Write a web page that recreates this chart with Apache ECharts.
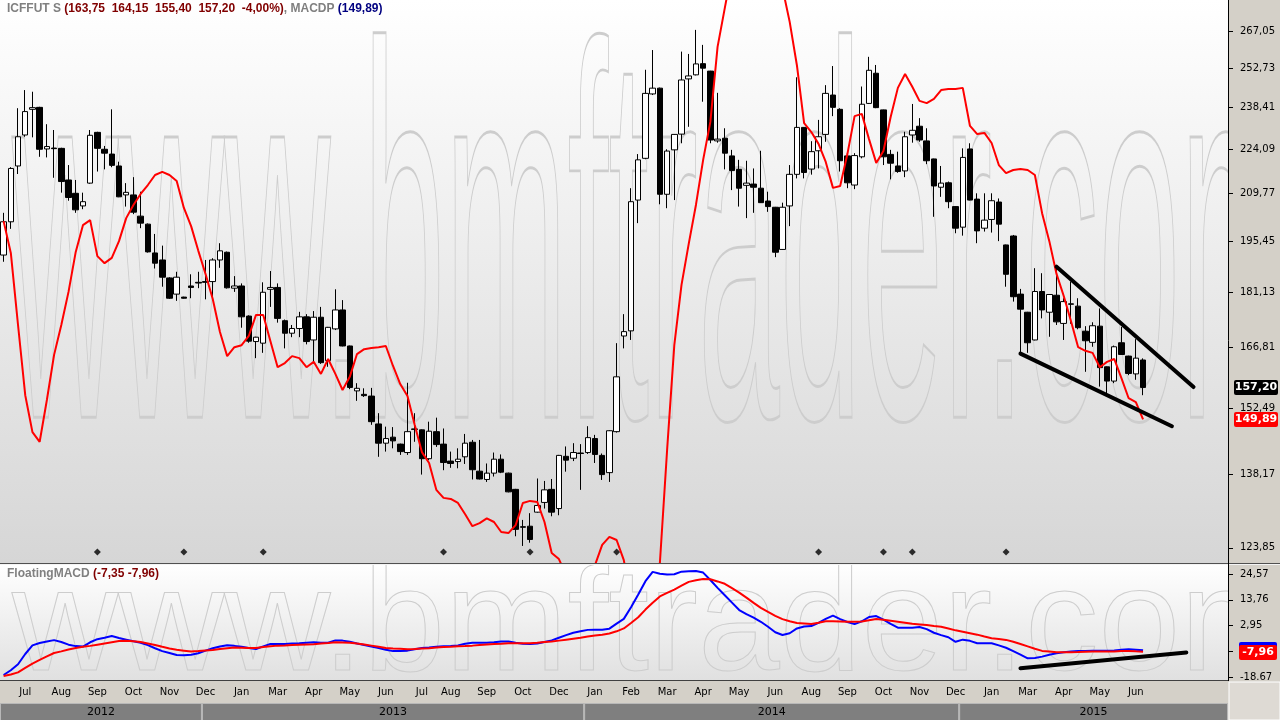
<!DOCTYPE html>
<html>
<head>
<meta charset="utf-8">
<script src="https://cdn.jsdelivr.net/npm/echarts/dist/echarts.min.js"></script>
<style>
html,body{margin:0;padding:0;background:#d4d0c8;overflow:hidden;}
#c{width:1280px;height:720px;}
</style>
</head>
<body>
<div id="c"></div>
<script>
// ---------------- DATA ----------------
// weekly candles: [open, close, low, high]
const ohlc = [
[191.4,201.1,189.5,203.8],[201.1,217.7,199.0,218.1],[218.5,228.2,215.9,238.1],[228.8,236.9,228.2,244.6],[237.7,238.3,228.0,244.0],
[238.4,224.0,221.5,238.6],[224.1,224.9,221.3,232.5],[224.4,224.2,214.7,230.5],[224.3,213.5,210.0,224.5],[214.0,208.5,207.5,218.8],
[209.8,204.7,203.8,214.0],[205.9,207.2,204.9,210.0],[213.0,228.7,212.8,230.5],[229.7,224.3,216.7,229.9],[224.0,222.7,217.4,225.1],
[222.4,218.7,218.1,237.7],[218.5,208.7,208.6,219.9],[209.3,210.1,205.7,213.0],[209.3,204.0,203.4,214.9],[202.8,200.7,199.2,210.3],
[200.4,192.3,192.1,200.6],[192.0,189.1,187.6,197.5],[190.0,185.2,182.6,194.1],[185.0,179.5,179.3,185.2],[180.6,185.2,178.8,186.7],
[179.8,179.5,179.4,179.9],[182.8,182.4,179.5,186.0],[183.8,183.6,182.2,186.7],[184.0,183.8,179.2,190.0],[184.0,190.0,179.0,190.5],
[190.0,192.6,187.8,194.8],[192.2,182.3,182.1,192.4],[182.2,182.8,181.2,185.5],[182.8,174.6,171.8,183.5],[174.8,168.4,168.0,175.0],
[168.3,169.4,164.2,169.5],[167.9,181.1,165.5,183.8],[181.9,182.4,177.2,186.9],[182.4,174.2,173.1,183.5],[173.6,170.4,166.6,173.9],
[170.4,171.6,169.4,172.5],[171.6,174.6,169.4,175.9],[174.6,168.3,167.6,175.3],[168.7,174.5,162.9,176.1],[174.5,163.1,162.8,177.2],
[163.6,171.9,162.1,172.0],[171.5,176.4,171.2,181.9],[176.4,167.2,167.1,179.0],[167.2,157.2,156.8,167.3],[156.4,157.0,154.1,158.2],
[155.6,155.3,155.0,157.0],[155.2,149.4,148.7,157.1],[148.9,144.7,141.8,151.3],[144.7,145.7,142.9,148.3],[146.0,145.2,143.6,148.2],
[144.5,142.9,142.2,144.6],[142.7,147.2,142.2,158.3],[147.8,147.7,145.0,151.3],[147.6,141.4,138.1,147.7],[141.4,147.3,141.1,149.4],
[147.2,144.4,143.9,150.3],[144.5,140.6,139.0,147.9],[140.9,140.4,139.5,142.9],[140.8,141.3,139.4,143.6],[141.8,144.7,140.3,146.7],
[144.9,139.1,137.1,145.4],[138.8,137.2,137.1,145.4],[137.1,138.4,136.6,140.4],[138.4,141.3,137.7,142.7],[141.3,138.6,138.4,142.3],
[138.4,134.6,134.5,138.5],[135.1,127.3,126.0,135.2],[127.8,127.7,124.2,129.1],[127.9,125.4,124.8,130.4],[130.6,131.9,130.5,137.3],
[132.5,135.0,131.3,136.8],[135.1,130.6,129.8,137.2],[131.3,142.1,130.0,142.2],[141.9,141.1,138.7,144.0],[141.5,142.7,140.9,144.7],
[142.6,142.5,135.0,144.5],[142.7,145.9,142.4,148.4],[145.7,142.3,140.5,146.5],[142.1,138.1,137.0,142.5],[138.5,147.4,136.6,147.5],
[147.2,159.7,147.0,167.9],[169.7,170.8,166.6,175.3],[171.0,207.2,168.7,211.4],[207.7,220.5,200.7,222.4],[221.0,243.4,220.7,252.1],
[243.2,245.3,242.8,259.6],[245.3,209.5,206.4,245.5],[209.5,223.4,205.2,224.0],[223.8,229.0,207.7,229.1],[229.1,248.3,226.0,259.0],
[248.7,249.8,231.6,258.1],[250.2,254.3,250.0,267.5],[254.4,252.7,240.4,261.6],[251.6,227.1,226.0,251.7],[226.8,227.4,226.2,243.6],
[227.7,222.7,217.4,231.1],[221.8,217.0,210.8,223.8],[217.4,211.4,205.7,220.5],[212.3,213.0,202.2,220.2],[212.7,211.7,203.8,217.7],
[211.4,206.9,206.8,223.5],[207.4,205.7,204.1,210.3],[205.5,192.2,190.8,205.6],[193.0,205.5,192.9,206.9],[205.9,215.8,199.8,218.8],
[215.8,231.4,214.5,249.3],[231.4,216.4,214.5,231.5],[217.5,223.2,215.7,226.7],[223.5,228.2,217.7,234.0],[229.0,243.4,226.5,246.4],
[242.8,238.4,235.3,253.5],[237.7,220.2,216.7,238.1],[221.8,213.1,211.4,222.7],[212.4,221.9,211.1,222.7],[221.5,239.5,221.0,245.9],
[239.8,251.9,239.6,257.0],[250.8,238.3,238.1,253.9],[237.5,221.5,218.8,237.6],[222.3,219.4,214.2,223.8],[218.5,216.7,216.3,223.2],
[216.9,228.2,214.9,229.9],[228.8,230.4,226.2,239.6],[231.8,227.1,226.5,234.6],[226.8,220.2,219.1,231.1],[220.8,212.1,202.6,220.9],
[211.7,213.0,208.7,218.5],[213.1,207.2,205.2,213.5],[205.7,199.2,197.7,205.8],[199.5,221.3,197.0,224.3],[224.1,207.7,207.6,226.0],
[208.0,198.4,194.8,209.8],[199.2,201.6,198.2,209.8],[201.8,207.5,197.9,209.8],[207.1,200.4,195.4,208.2],[194.3,186.0,182.6,194.4],
[196.9,179.9,178.6,197.2],[180.6,176.6,165.5,182.0],[175.8,168.0,165.5,175.9],[168.7,181.3,168.6,187.7],[181.3,176.4,174.2,186.3],
[175.8,180.5,169.5,180.6],[180.3,173.3,172.5,188.2],[172.9,178.6,168.7,179.5],[178.0,177.9,172.8,184.0],[177.4,171.8,171.4,179.5],
[170.9,168.5,160.9,172.2],[168.1,172.3,167.0,173.2],[172.2,161.9,157.4,176.8],[162.1,158.7,155.8,162.2],[158.7,167.0,158.2,167.3],
[168.0,165.1,165.0,172.0],[164.7,160.5,160.1,164.8],[160.4,164.2,159.0,168.9],[163.75,157.20,155.40,164.15]
];

// MACDP (red line on the price panel)
const macdp = [
201.3,192.0,172.5,155.4,147.1,145.0,154.3,165.0,172.5,181.2,
192.3,200.1,201.6,191.1,189.1,190.6,195.4,202.2,206.2,209.6,
212.4,215.6,216.6,215.6,213.7,205.3,199.8,192.6,186.1,179.3,
170.7,164.7,166.9,167.4,169.7,175.1,175.1,168.4,162.0,163.0,
164.7,164.2,162.0,163.3,160.4,164.0,160.4,156.6,159.7,165.2,
166.4,166.7,166.9,167.2,162.3,158.0,155.2,148.7,142.8,140.5,
135.0,133.4,133.2,132.4,130.2,127.9,128.5,129.4,128.7,126.8,
126.6,128.1,132.4,132.8,132.6,128.7,122.9,121.8,118.9,116.3,
115.5,117.2,120.7,124.4,125.9,125.3,121.6,114.6,109.6,108.0,
111.2,121.1,143.2,167.4,183.1,194.6,206.2,220.5,233.3,260.8,
276.3,292.4,305.7,315.0,319.7,317.3,310.3,299.0,284.7,270.7,
253.8,232.9,229.8,225.8,219.8,211.5,212.1,222.4,235.3,236.1,
227.4,219.5,223.4,235.0,245.4,250.5,245.8,240.7,239.9,241.4,
244.6,245.0,245.0,245.4,231.9,229.1,229.5,226.1,218.8,216.2,
217.2,217.5,217.2,215.6,203.7,195.4,186.1,180.1,173.5,166.9,
166.0,165.5,162.0,163.3,164.0,159.4,154.7,153.8,149.89
];

// FloatingMACD panel
const macdLine = [
-17.7,-15.7,-13.2,-8.9,-5.3,-4.3,-3.7,-3.1,-3.9,-5.0,
-5.6,-5.8,-4.0,-2.7,-2.1,-1.4,-2.2,-2.9,-3.6,-4.2,
-5.2,-6.5,-7.7,-8.5,-9.3,-9.4,-9.2,-8.6,-7.5,-6.5,
-5.8,-5.2,-5.5,-5.9,-6.4,-6.8,-5.7,-4.7,-4.7,-4.7,
-4.5,-4.4,-4.2,-4.0,-4.2,-4.2,-3.2,-3.3,-3.8,-4.5,
-5.1,-5.8,-6.4,-7.1,-7.7,-7.7,-7.5,-6.9,-6.4,-6.2,
-5.9,-5.7,-5.6,-5.3,-4.6,-4.2,-4.2,-4.2,-4.0,-3.7,
-3.7,-4.2,-4.6,-4.7,-4.5,-3.9,-3.2,-2.1,-1.0,0.0,
0.6,1.2,1.3,1.3,1.7,3.8,5.8,10.7,16.0,21.6,
25.5,24.7,24.4,24.5,25.6,25.8,25.9,25.2,22.1,18.8,
15.7,12.6,9.5,7.8,6.3,4.6,2.5,0.2,-0.95,-0.2,
1.8,2.6,2.8,4.1,5.8,7.2,5.7,4.5,3.6,4.8,
6.6,7.0,5.5,3.7,2.1,2.1,2.1,2.4,1.5,0.0,
-1.0,-1.9,-3.8,-2.9,-3.4,-4.4,-4.4,-4.4,-5.3,-6.3,
-7.7,-9.2,-10.7,-10.6,-10.0,-9.2,-8.6,-8.2,-7.9,-7.7,
-7.6,-7.5,-7.5,-7.5,-7.4,-7.1,-6.9,-7.1,-7.35
];
const signalLine = [
-18.1,-17.5,-16.6,-14.7,-12.9,-11.4,-9.9,-8.5,-7.8,-7.0,
-6.4,-5.9,-5.5,-5.0,-4.5,-4.0,-3.5,-3.4,-3.6,-3.9,
-4.5,-5.1,-5.9,-6.6,-7.1,-7.5,-7.9,-7.7,-7.4,-7.2,
-6.8,-6.5,-6.2,-6.3,-6.4,-6.4,-6.0,-5.7,-5.4,-5.3,
-5.1,-5.0,-4.9,-4.8,-4.5,-4.3,-4.0,-4.1,-4.2,-4.5,
-4.9,-5.4,-5.9,-6.4,-6.6,-6.7,-6.9,-6.8,-6.6,-6.5,
-6.2,-6.0,-5.9,-5.7,-5.6,-5.4,-5.1,-4.9,-4.7,-4.6,
-4.4,-4.4,-4.4,-4.4,-4.2,-3.9,-3.7,-3.3,-2.9,-2.5,
-2.1,-1.6,-1.2,-0.8,-0.3,0.6,1.8,4.1,6.5,9.7,
12.6,15.2,16.7,18.1,19.7,21.3,22.0,22.5,22.4,21.5,
20.5,18.7,16.8,14.7,12.5,10.4,8.7,7.1,5.7,4.8,
4.1,3.9,3.7,4.2,4.8,4.8,4.7,4.6,4.6,4.7,
5.2,5.8,5.4,5.0,4.6,4.2,3.8,3.5,3.2,2.8,
2.5,1.8,1.0,0.4,-0.2,-0.8,-1.6,-2.3,-2.6,-3.0,
-3.8,-4.7,-5.7,-6.7,-7.6,-7.9,-8.2,-8.2,-8.2,-8.1,
-7.95,-7.9,-7.9,-7.9,-7.9,-7.7,-7.6,-7.8,-7.96
];

// signal markers (diamonds at the bottom of the price panel)
const markerIdx = [13,25,36,61,73,85,113,122,126,139];
const markerLevel = 123.1;

// hand-drawn trend lines [barIndex, value]
const wedgeUpper = [[146,188.1],[165,157.3]];
const wedgeLower = [[141,165.3],[162,148.4]];
const macdTrend  = [[141,-14.9],[164,-8.3]];

// axes
const totalSlots = 170;
const priceTicks = [123.85,138.17,152.49,166.81,181.13,195.45,209.77,224.09,238.41,252.73,267.05];
const priceTickLabels = ['123,85','138,17','152,49','166,81','181,13','195,45','209,77','224,09','238,41','252,73','267,05'];
const macdTicks = [24.57,13.76,2.95,-7.96,-18.67];
const macdTickLabels = ['24,57','13,76','2,95','-7,96','-18.67'];
const monthIdx = [3,8,13,18,23,28,33,38,43,48,53,58,62,67,72,77,82,87,92,97,102,107,112,117,122,127,132,137,142,147,152,157];
const monthLabels = ['Jul','Aug','Sep','Oct','Nov','Dec','Jan','Mar','Apr','May','Jun','Jul','Aug','Sep','Oct','Dec','Jan','Feb','Mar','Apr','May','Jun','Aug','Sep','Oct','Nov','Dec','Jan','Mar','Apr','May','Jun'];
const yearNames = ['2012','2013','2014','2015'];
const yearStartIdx = [0,28,81,133];
const priceRange = [121.09, 279.65];
const macdRange = [-19.80, 28.38];
const watermarkText = 'www.bmftrader.com';

// ---------------- CHART ----------------
const LN = Math.log;
const categories = Array.from({length: totalSlots}, (_, i) => 'w' + i);
const nearestLabel = (vals, labels, v) => {
  let b = 0, d = Infinity;
  vals.forEach((t, i) => { const e = Math.abs(t - v); if (e < d) { d = e; b = i; } });
  return labels[b];
};
const FONT = '"DejaVu Sans", Verdana, sans-serif';

const chart = echarts.init(document.getElementById('c'), null, {renderer: 'canvas', width: 1280, height: 720});

const option = {
  animation: false,
  backgroundColor: 'transparent',
  grid: [
    {left: 0, top: 0, width: 1226, height: 563, containLabel: false},
    {left: 0, top: 565, width: 1226, height: 115, containLabel: false}
  ],
  xAxis: [
    {type: 'category', gridIndex: 0, data: categories, boundaryGap: true, show: false},
    {type: 'category', gridIndex: 1, data: categories, boundaryGap: true,
     axisLine: {show: false}, axisTick: {show: false}, splitLine: {show: false},
     axisLabel: {
       interval: (i) => monthIdx.indexOf(i) >= 0,
       formatter: (v, i) => { const k = monthIdx.indexOf(i); return k >= 0 ? monthLabels[k] : ''; },
       margin: 7, color: '#000', fontSize: 10, fontFamily: FONT
     }}
  ],
  yAxis: [
    {type: 'value', gridIndex: 0, position: 'right', offset: 2,
     min: LN(priceRange[0]), max: LN(priceRange[1]),
     splitLine: {show: false}, axisLine: {show: false},
     axisTick: {show: true, length: 5, lineStyle: {color: '#000'}, customValues: priceTicks.map(LN)},
     axisLabel: {customValues: priceTicks.map(LN), margin: 12, color: '#000', fontSize: 10, fontFamily: FONT,
                 formatter: v => nearestLabel(priceTicks.map(LN), priceTickLabels, v)}},
    {type: 'value', gridIndex: 1, position: 'right', offset: 2,
     min: macdRange[0], max: macdRange[1],
     splitLine: {show: false}, axisLine: {show: false},
     axisTick: {show: true, length: 5, lineStyle: {color: '#000'}, customValues: macdTicks},
     axisLabel: {customValues: macdTicks, margin: 12, color: '#000', fontSize: 10, fontFamily: FONT,
                 formatter: v => nearestLabel(macdTicks, macdTickLabels, v)}}
  ],
  series: [
    {type: 'candlestick', name: 'ICFFUT S', xAxisIndex: 0, yAxisIndex: 0, barWidth: 6,
     data: ohlc.map(r => r.map(LN)),
     itemStyle: {color: '#ffffff', color0: '#000000', borderColor: '#000000', borderColor0: '#000000', borderWidth: 1},
     emphasis: {disabled: true}},
    {type: 'line', name: 'MACDP', xAxisIndex: 0, yAxisIndex: 0, data: macdp.map(LN),
     showSymbol: false, symbol: 'none', lineStyle: {color: '#ff0000', width: 2}, z: 3, emphasis: {disabled: true}},
    {type: 'scatter', xAxisIndex: 0, yAxisIndex: 0, symbol: 'diamond', symbolSize: 7,
     data: markerIdx.map(i => [i, LN(markerLevel)]), itemStyle: {color: '#000'}},
    {type: 'line', xAxisIndex: 0, yAxisIndex: 0, data: wedgeUpper.map(p => [p[0], LN(p[1])]),
     symbol: 'none', lineStyle: {color: '#000', width: 4, cap: 'round'}, z: 4},
    {type: 'line', xAxisIndex: 0, yAxisIndex: 0, data: wedgeLower.map(p => [p[0], LN(p[1])]),
     symbol: 'none', lineStyle: {color: '#000', width: 4, cap: 'round'}, z: 4},
    {type: 'line', name: 'MACD', xAxisIndex: 1, yAxisIndex: 1, data: macdLine,
     symbol: 'none', lineStyle: {color: '#0000ff', width: 2}},
    {type: 'line', name: 'Signal', xAxisIndex: 1, yAxisIndex: 1, data: signalLine,
     symbol: 'none', lineStyle: {color: '#ff0000', width: 2}},
    {type: 'line', xAxisIndex: 1, yAxisIndex: 1, data: macdTrend,
     symbol: 'none', lineStyle: {color: '#000', width: 4, cap: 'round'}, z: 4}
  ]
};
chart.setOption(option);

// ---------------- DECORATION (positions from the chart's own scales) ----------------
const fmt2 = v => v.toFixed(2).replace('.', ',');
const last = ohlc[ohlc.length - 1];
const pct = ((last[1] - last[0]) / last[0] * 100);
const lg = (a, b) => new echarts.graphic.LinearGradient(0, 0, 0, 1, [{offset: 0, color: a}, {offset: 1, color: b}]);
const xPx = i => chart.convertToPixel({xAxisIndex: 1}, i);
const yPrice = v => chart.convertToPixel({yAxisIndex: 0}, LN(v));
const yMacd = v => chart.convertToPixel({yAxisIndex: 1}, v);
const plotRight = 1228;
const G = [];
// panel backgrounds
G.push({type: 'rect', z: -10, silent: true, shape: {x: 0, y: 0, width: plotRight, height: 563}, style: {fill: lg('#ffffff', '#d6d6d6')}});
G.push({type: 'rect', z: -10, silent: true, shape: {x: 0, y: 564, width: plotRight, height: 117}, style: {fill: lg('#ffffff', '#e0e0e0')}});
// watermark
G.push({type: 'text', z: -9, silent: true, x: 12, y: 271, scaleY: 3.61,
  style: {x: 0, y: 0, text: watermarkText, font: '147px "Liberation Sans", Arial', fill: 'rgba(0,0,0,0)', stroke: '#cdcdcd', lineWidth: 0.8, verticalAlign: 'middle', align: 'left'}});
G.push({type: 'text', z: -9, silent: true, x: 12, y: 629,
  style: {x: 0, y: 0, text: watermarkText, font: '147px "Liberation Sans", Arial', fill: 'rgba(0,0,0,0)', stroke: '#cdcdcd', lineWidth: 1, verticalAlign: 'middle', align: 'left'}});
// frame areas
G.push({type: 'rect', z: -8, silent: true, shape: {x: plotRight, y: 0, width: 1280 - plotRight, height: 681}, style: {fill: '#d4d0c8'}});
G.push({type: 'rect', z: -8, silent: true, shape: {x: 0, y: 681, width: 1280, height: 39}, style: {fill: '#d4d0c8'}});
G.push({type: 'rect', z: -7, silent: true, shape: {x: plotRight + 1, y: 682, width: 1280 - plotRight - 1, height: 38}, style: {fill: '#dedad4', stroke: '#ffffff', lineWidth: 1}});
G.push({type: 'line', z: 10, silent: true, shape: {x1: 0, y1: 563.5, x2: 1280, y2: 563.5}, style: {stroke: '#505050', lineWidth: 1}});
G.push({type: 'line', z: 10, silent: true, shape: {x1: 0, y1: 564.5, x2: 1280, y2: 564.5}, style: {stroke: '#f4f4f4', lineWidth: 1}});
G.push({type: 'line', z: 10, silent: true, shape: {x1: 0, y1: 680.5, x2: plotRight, y2: 680.5}, style: {stroke: '#404040', lineWidth: 1}});
G.push({type: 'line', z: 10, silent: true, shape: {x1: plotRight + 0.5, y1: 0, x2: plotRight + 0.5, y2: 681}, style: {stroke: '#000', lineWidth: 1}});
// year band
const half = (xPx(1) - xPx(0)) / 2;
yearNames.forEach((name, k) => {
  const x0 = k === 0 ? 0 : xPx(yearStartIdx[k]) - half;
  const x1 = k === yearNames.length - 1 ? plotRight : xPx(yearStartIdx[k + 1]) - half;
  G.push({type: 'rect', z: -6, silent: true, shape: {x: x0 + 0.5, y: 703.5, width: x1 - x0 - 1, height: 17}, style: {fill: '#7f7f7f', stroke: '#b8b8b8', lineWidth: 1}});
  G.push({type: 'text', z: -5, silent: true, x: (x0 + x1) / 2, y: 712, style: {text: name, font: '11px ' + FONT, fill: '#000', align: 'center', verticalAlign: 'middle'}});
});
// legends
const tf = 'bold 12px "Liberation Sans", Arial';
G.push({type: 'text', z: 50, silent: true, x: 7, y: 3, style: {
  text: '{g|ICFFUT S }{r|(' + fmt2(last[0]) + '  ' + fmt2(last[3]) + '  ' + fmt2(last[2]) + '  ' + fmt2(last[1]) + '  ' + fmt2(pct) + '%)}{g|, MACDP }{b|(' + fmt2(macdp[macdp.length - 1]) + ')}',
  rich: {g: {fill: '#808080', font: tf}, r: {fill: '#800000', font: tf}, b: {fill: '#000080', font: tf}}, verticalAlign: 'top'}});
G.push({type: 'text', z: 50, silent: true, x: 7, y: 568, style: {
  text: '{g|FloatingMACD }{r|(' + fmt2(macdLine[macdLine.length - 1]) + ' ' + fmt2(signalLine[signalLine.length - 1]) + ')}',
  rich: {g: {fill: '#808080', font: tf}, r: {fill: '#800000', font: tf}}, verticalAlign: 'top'}});
// last-value tags on the axes
const tag = (y, bg, txt, x, w) => {
  G.push({type: 'rect', z: 60, silent: true, shape: {x: x, y: Math.round(y) - 7, width: w, height: 15, r: 2}, style: {fill: bg}});
  G.push({type: 'text', z: 61, silent: true, x: x + w / 2, y: Math.round(y) + 0.5, style: {text: txt, font: 'bold 11px ' + FONT, fill: '#fff', align: 'center', verticalAlign: 'middle'}});
};
tag(yPrice(last[1]), '#000000', fmt2(last[1]), 1234, 44);
tag(yPrice(macdp[macdp.length - 1]), '#ff0000', fmt2(macdp[macdp.length - 1]), 1234, 44);
G.push({type: 'rect', z: 59, silent: true, shape: {x: 1239, y: Math.round(yMacd(macdLine[macdLine.length - 1])) - 8, width: 38, height: 15, r: 2}, style: {fill: '#0000ff'}});
tag(yMacd(signalLine[signalLine.length - 1]), '#ff0000', fmt2(signalLine[signalLine.length - 1]), 1239, 38);

chart.setOption({graphic: {elements: G}});
</script>
</body>
</html>
